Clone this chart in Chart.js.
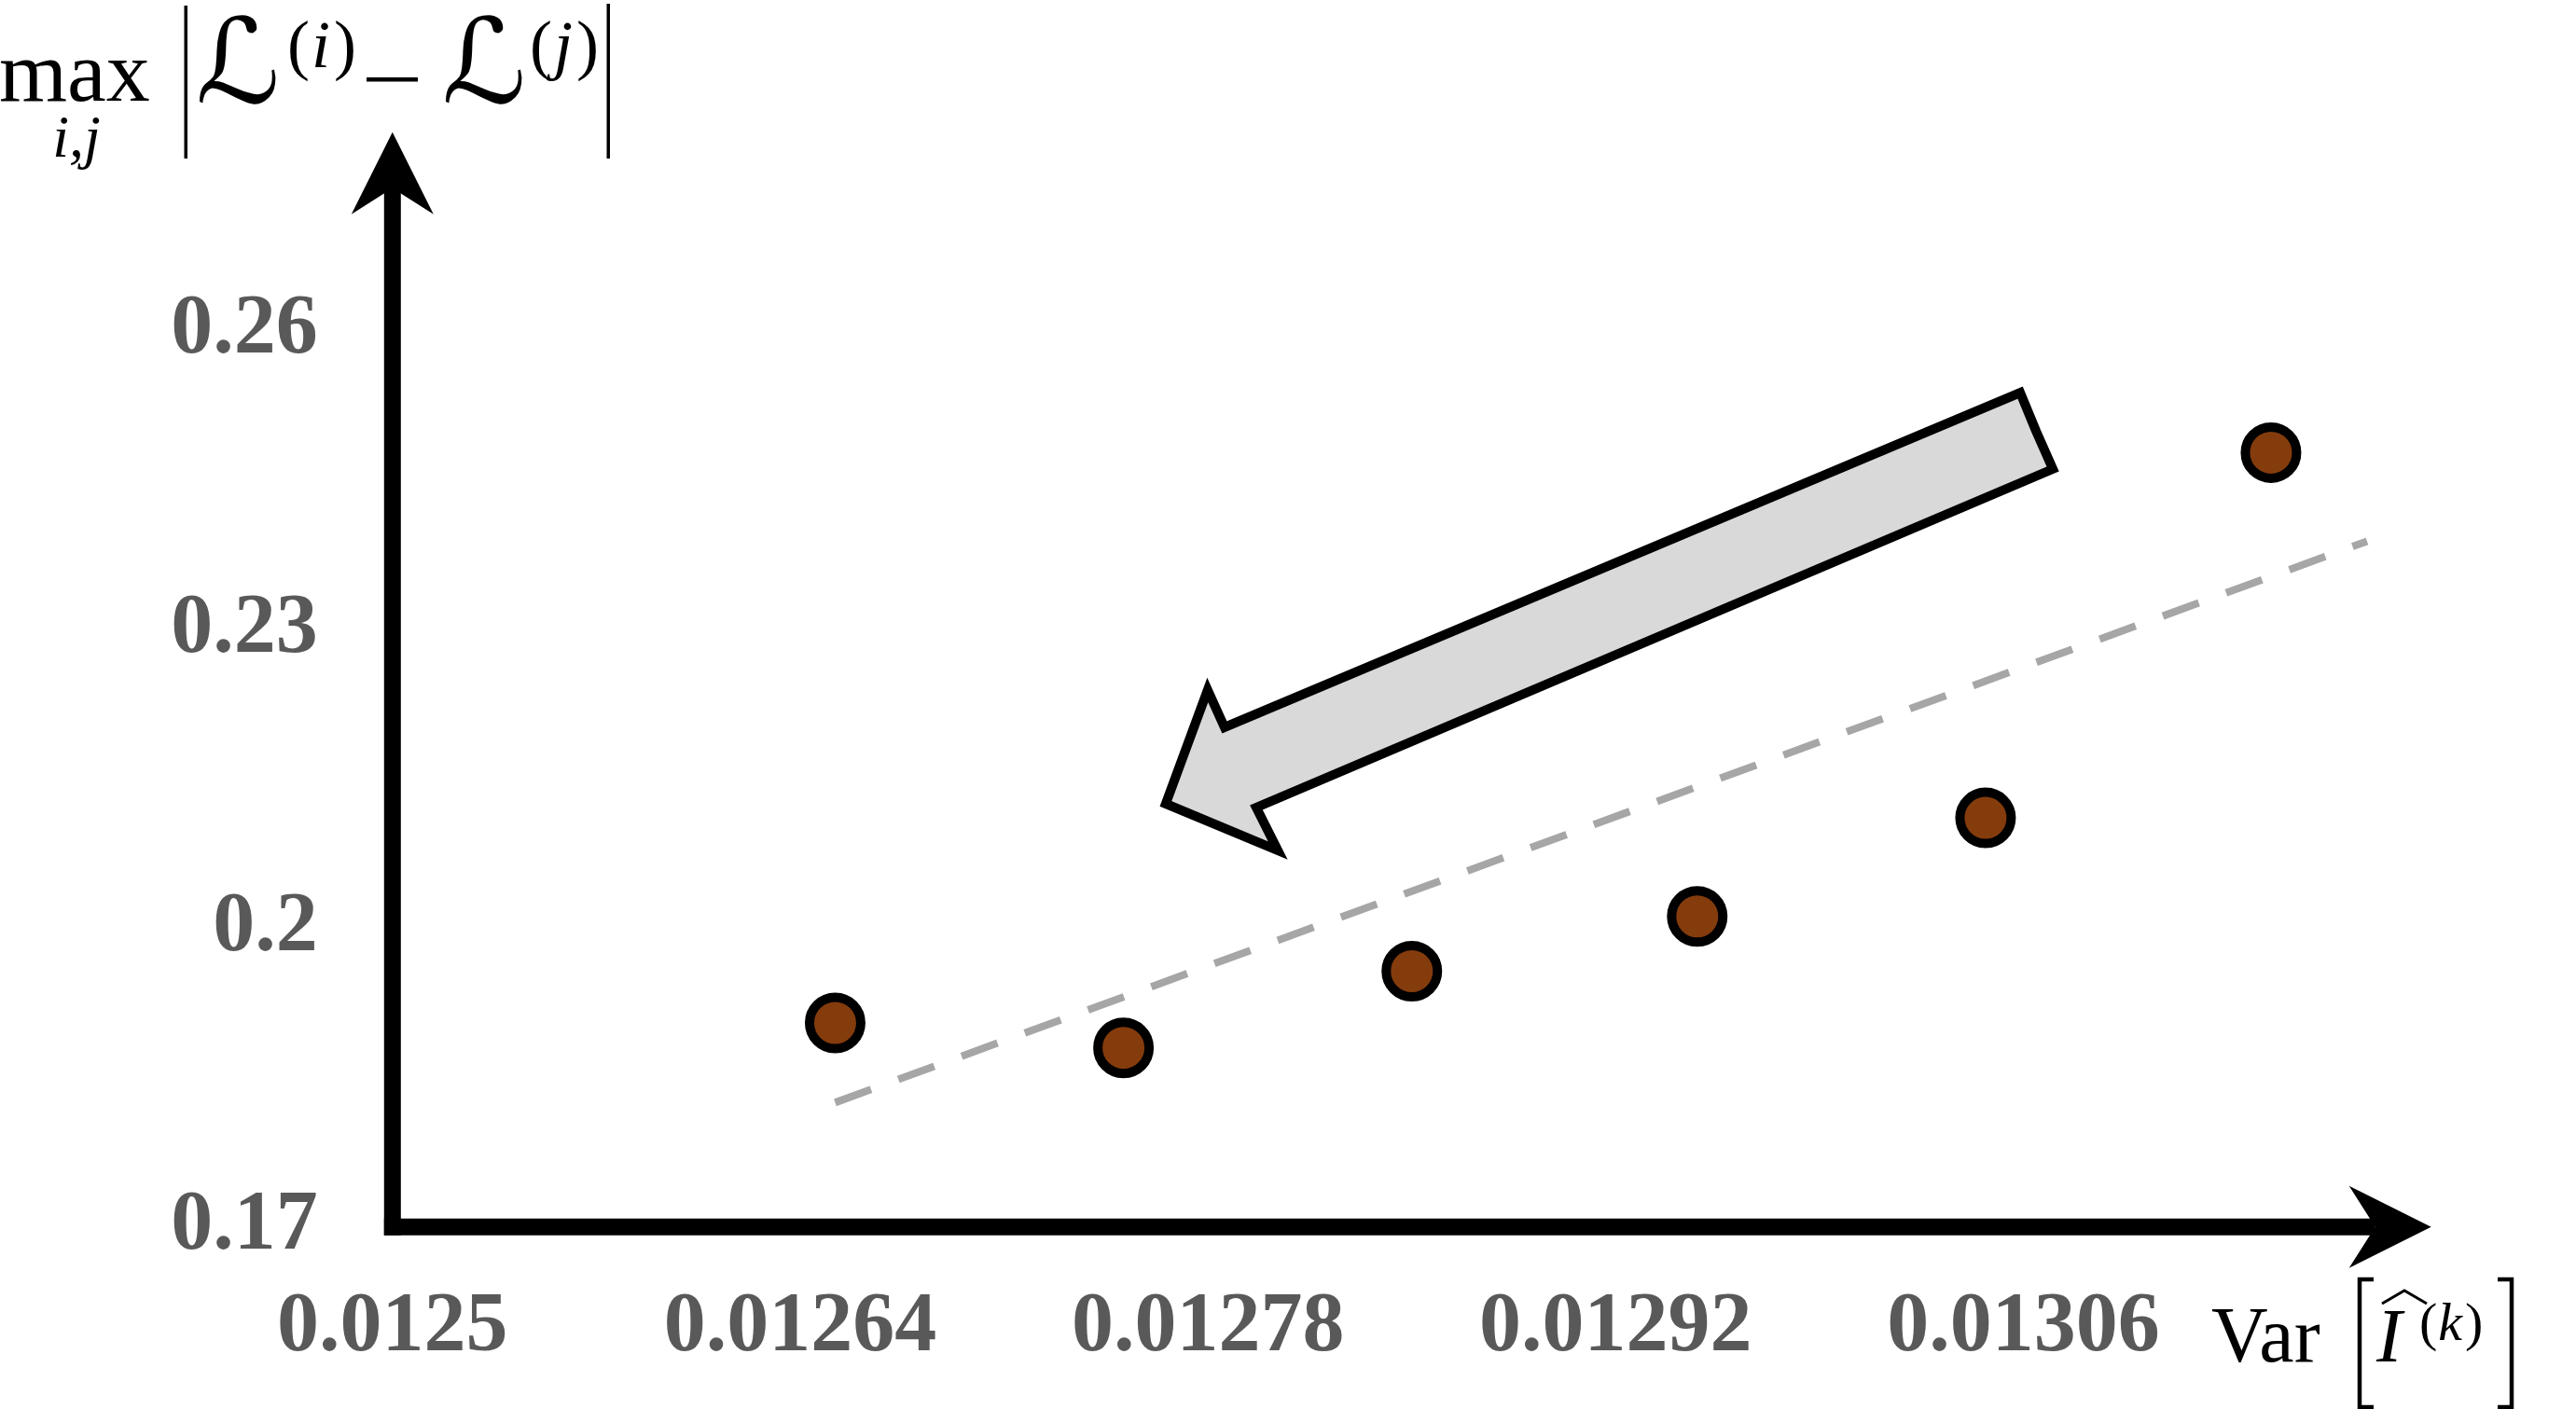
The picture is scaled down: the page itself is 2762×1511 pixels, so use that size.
<!DOCTYPE html>
<html><head><meta charset="utf-8">
<script src="https://cdn.jsdelivr.net/npm/chart.js@4/dist/chart.umd.min.js"></script>
<style>html,body{margin:0;padding:0;background:#fff;overflow:hidden}canvas{display:block}</style>
</head><body>
<canvas id="c" width="2762" height="1511" style="width:2762px;height:1511px"></canvas>
<script>
// ---- data ----
const xTicks = [0.0125, 0.01264, 0.01278, 0.01292, 0.01306];
const xTickLabels = ['0.0125', '0.01264', '0.01278', '0.01292', '0.01306'];
const yTicks = [0.17, 0.20, 0.23, 0.26];
const yTickLabels = ['0.17', '0.2', '0.23', '0.26'];
const xValues = [0.012652, 0.012751, 0.012850, 0.012948, 0.013047, 0.013145];
const yValues = [0.1905, 0.1880, 0.1957, 0.2012, 0.2111, 0.2478];
const trendX = [0.012652, 0.013178];
const trendY = [0.1825, 0.2389];
const arrowX = [0.0130643, 0.0130701, 0.0127966, 0.0128040, 0.0127655, 0.0127799, 0.0127857, 0.0130589, 0.0130643];
const arrowY = [0.24999, 0.24615, 0.21214, 0.20783, 0.21252, 0.22395, 0.22020, 0.25383, 0.24999];
const xMin = 0.0125, xMax = 0.0132, yMin = 0.17, yMax = 0.28;

const toXY = (xs, ys) => xs.map((x, i) => ({x: x, y: ys[i]}));

const axesPlugin = {
  id: 'axesArrows',
  afterDraw(chart) {
    const ctx = chart.ctx;
    const {left, right, top, bottom} = chart.chartArea;
    ctx.save();
    ctx.fillStyle = '#000';
    ctx.strokeStyle = '#000';
    const lw = 18, headLen = 88, headHalf = 44, notch = 60;
    ctx.lineWidth = lw;
    ctx.lineCap = 'butt';
    // y axis
    ctx.beginPath(); ctx.moveTo(left, bottom + lw / 2); ctx.lineTo(left, top + notch); ctx.stroke();
    ctx.beginPath(); ctx.moveTo(left, top); ctx.lineTo(left + headHalf, top + headLen);
    ctx.lineTo(left, top + notch); ctx.lineTo(left - headHalf, top + headLen); ctx.closePath(); ctx.fill();
    // x axis
    ctx.beginPath(); ctx.moveTo(left - lw / 2, bottom); ctx.lineTo(right - notch, bottom); ctx.stroke();
    ctx.beginPath(); ctx.moveTo(right, bottom); ctx.lineTo(right - headLen, bottom - headHalf);
    ctx.lineTo(right - notch, bottom); ctx.lineTo(right - headLen, bottom + headHalf); ctx.closePath(); ctx.fill();

    // ---- axis titles (math-like) ----
    ctx.textAlign = 'left';
    ctx.textBaseline = 'alphabetic';
    const put = (s, x, y, font) => { ctx.font = font; ctx.fillText(s, x, y); return x + ctx.measureText(s).width; };
    const R = '"Liberation Serif", serif';
    const SC = '"DejaVu Serif", "DejaVu Sans", serif';
    // y title: max_{i,j} |L^(i) - L^(j)|
    put('max', -1, 108, '94px ' + R);
    ctx.textAlign = 'center';
    ctx.font = 'italic 64px ' + R; ctx.fillText('i,j', 82, 168);
    ctx.textAlign = 'left';
    ctx.fillRect(197.5, 6, 3.5, 164);
    put('\u2112', 210, 110, 'italic 126px ' + SC);
    let x = put('(', 308, 72, '72px ' + R);
    x = put('i', x + 2, 72, 'italic 72px ' + R);
    put(')', x + 4, 72, '72px ' + R);
    ctx.fillRect(393, 83, 55, 4.5);
    put('\u2112', 474, 110, 'italic 126px ' + SC);
    x = put('(', 568, 72, '72px ' + R);
    x = put('j', x + 2, 72, 'italic 72px ' + R);
    put(')', x + 4, 72, '72px ' + R);
    ctx.fillRect(650.5, 4, 3.5, 166);

    // x title: Var[ I-hat^(k) ]
    put('Var', 2371, 1460, '84px ' + R);
    ctx.lineWidth = 4.5;
    ctx.lineCap = 'butt';
    ctx.lineJoin = 'miter';
    ctx.beginPath(); ctx.moveTo(2545, 1372); ctx.lineTo(2530, 1372); ctx.lineTo(2530, 1509); ctx.lineTo(2545, 1509); ctx.stroke();
    put('I', 2548, 1460, 'italic 82px ' + R);
    ctx.lineWidth = 3;
    ctx.beginPath(); ctx.moveTo(2554, 1398); ctx.lineTo(2578, 1384); ctx.lineTo(2602, 1398); ctx.stroke();
    x = put('(', 2594, 1437, '58px ' + R);
    x = put('k', x + 1, 1437, 'italic 58px ' + R);
    put(')', x + 3, 1437, '58px ' + R);
    ctx.lineWidth = 4.5;
    ctx.beginPath(); ctx.moveTo(2678, 1372); ctx.lineTo(2693, 1372); ctx.lineTo(2693, 1509); ctx.lineTo(2678, 1509); ctx.stroke();
    ctx.restore();
  }
};

const tickFont = {family: '"Liberation Serif", serif', size: 90, weight: 'bold'};

new Chart(document.getElementById('c'), {
  type: 'scatter',
  data: {
    datasets: [
      {
        data: toXY(xValues, yValues),
        showLine: false,
        pointRadius: 27.5,
        pointHoverRadius: 27.5,
        pointBackgroundColor: '#843c0c',
        pointBorderColor: '#000000',
        pointBorderWidth: 10,
        order: 1
      },
      {
        data: toXY(trendX, trendY),
        showLine: true,
        borderColor: '#a6a6a6',
        borderWidth: 8,
        borderDash: [41, 31.2],
        borderCapStyle: 'butt',
        pointRadius: 0,
        fill: false,
        order: 2
      },
      {
        data: toXY(arrowX, arrowY),
        showLine: true,
        fill: 'shape',
        backgroundColor: '#d9d9d9',
        borderColor: '#000000',
        borderWidth: 10,
        borderJoinStyle: 'miter',
        borderCapStyle: 'butt',
        tension: 0,
        pointRadius: 0,
        order: 3
      }
    ]
  },
  options: {
    responsive: false,
    animation: false,
    devicePixelRatio: 1,
    events: [],
    layout: {padding: {top: 141.7, right: 155.3, left: 0, bottom: 0}},
    plugins: {legend: {display: false}, tooltip: {enabled: false}},
    scales: {
      x: {
        type: 'linear', min: xMin, max: xMax,
        afterFit(s) { s.height = 195.2; },
        afterBuildTicks(s) { s.ticks = xTicks.map(v => ({value: v})); },
        ticks: {callback: (v, i) => xTickLabels[i], font: tickFont, color: '#595959', padding: 55, maxRotation: 0, autoSkip: false},
        grid: {display: false, drawTicks: false},
        border: {display: false}
      },
      y: {
        type: 'linear', min: yMin, max: yMax,
        afterFit(s) { s.width = 420.8; },
        afterBuildTicks(s) { s.ticks = yTicks.map(v => ({value: v})); },
        ticks: {callback: (v, i) => yTickLabels[i], font: tickFont, color: '#595959', padding: 80, autoSkip: false},
        grid: {display: false, drawTicks: false},
        border: {display: false}
      }
    }
  },
  plugins: [axesPlugin]
});
</script>
</body></html>
